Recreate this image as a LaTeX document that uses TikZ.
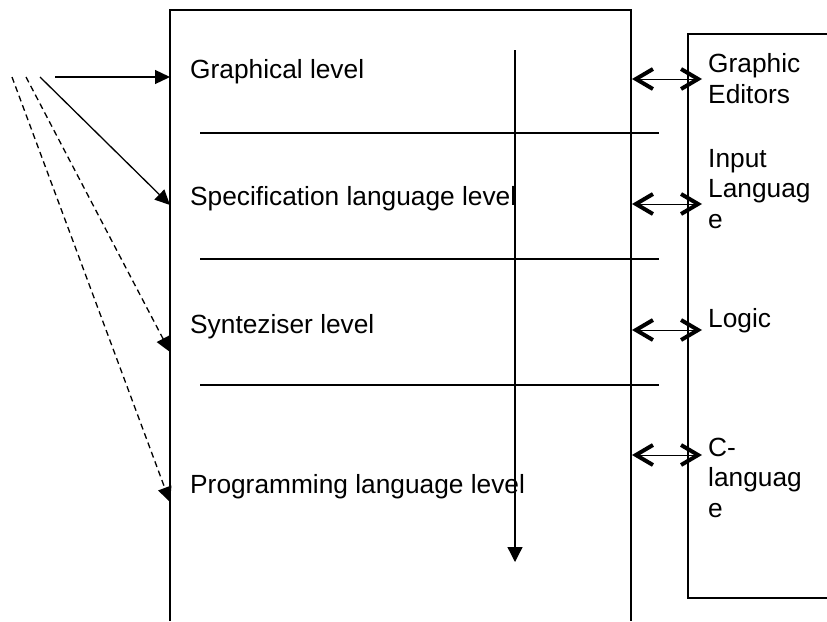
\documentclass[tikz,border=0pt]{standalone}
\usepackage{fontspec}
\setmainfont{Liberation Sans}
\usetikzlibrary{arrows.meta}
\begin{document}
\begin{tikzpicture}[x=1pt,y=-1pt,
  txt/.style={anchor=base west,inner sep=0pt,font=\fontsize{26.3}{30.5}\selectfont,align=left},
  boxline/.style={line width=2pt},
  sepline/.style={line width=1.8pt},
  flow/.style={line width=1.3pt,-{Triangle[length=15pt,width=14pt]}},
  flowd/.style={flow,dash pattern=on 6pt off 4pt},
  barb/.tip={Straight Barb[length=17pt,width=20pt,line width'=4pt]},
  link/.style={line width=1pt,{barb}-{barb}}]
\useasboundingbox (0,0) rectangle (827,621);
% main box (open at bottom)
\draw[boxline] (170,621) -- (170,10) -- (631,10) -- (631,621);
% right box (open at right)
\draw[line width=1.5pt] (827,34) -- (688,34) -- (688,598) -- (827,598);
% separators
\draw[sepline] (200,133) -- (659,133);
\draw[sepline] (200,259) -- (659,259);
\draw[sepline] (200,385) -- (659,385);
% level texts
\node[txt] (gl) at (190,78) {Graphical level};
\node[txt] (sl) at (190,205) {Specification language level};
\node[txt] (zl) at (190,333) {Synteziser level};
\node[txt] (pl) at (190,493) {Programming language level};
% right texts (base anchor = last line)
\node[txt] (ge) at (708,103) {Graphic\\Editors};
\node[txt] (il) at (708,228) {Input\\Languag\\e};
\node[txt] (lo) at (708,327) {Logic};
\node[txt] (cl) at (708,517) {C-\\languag\\e};
% vertical flow arrow
\coordinate (vt) at (515,50);
\coordinate (vb) at (515,562);
\draw[line width=1.3pt,-{Triangle[length=15pt,width=15pt]}] (vt) -- (vb);
% left arrows
\coordinate (s1) at (55,77);
\coordinate (s2) at (40,77);
\coordinate (s3) at (26,77);
\coordinate (s4) at (12,77);
\coordinate (t1) at (170,77);
\coordinate (t2) at (170,205);
\coordinate (t3) at (170,352);
\coordinate (t4) at (170,502);
\draw[flow] (s1) -- (t1);
\draw[flow] (s2) -- (t2);
\draw[flowd] (s3) -- (t3);
\draw[flowd] (s4) -- (t4);
% double arrows
\foreach \y/\n in {79/a,204/b,330/c,455/d}{
  \coordinate (l\n) at (632,\y);
  \coordinate (r\n) at (702,\y);
  \draw[link] (l\n) -- (r\n);
}
\end{tikzpicture}
\end{document}
